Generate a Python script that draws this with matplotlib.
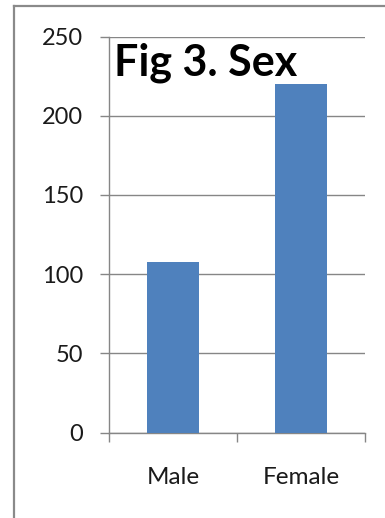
import matplotlib
matplotlib.use("Agg")
import matplotlib.pyplot as plt
from matplotlib.lines import Line2D

# Respondents by sex
categories = ["Male", "Female"]
counts = [108, 220]
yticks = [0, 50, 100, 150, 200, 250]

bar_color = "#4f81bd"
grid_color = "#868686"

plt.rcParams["font.family"] = ["Lato", "DejaVu Sans"]

fig = plt.figure(figsize=(3.85, 5.18), dpi=100)
ax = fig.add_axes([0.283, 0.1647, 0.665, 0.7648])

x = list(range(len(categories)))
ax.bar(x, counts, width=0.4, color=bar_color, zorder=3)

ax.set_xlim(-0.5, len(categories) - 0.5)
ax.set_ylim(0, 250)
ax.set_yticks(yticks)
ax.set_yticklabels([str(v) for v in yticks])
ax.yaxis.grid(True, color=grid_color, linewidth=1.0, zorder=0)

# category labels sit between the boundary ticks
ax.set_xticks(x)
ax.set_xticklabels(categories)
ax.set_xticks([i - 0.5 for i in range(len(categories) + 1)], minor=True)
ax.tick_params(axis="x", which="major", length=0, pad=25, labelsize=17.5, labelcolor="#1a1a1a")
ax.tick_params(axis="x", which="minor", length=6.5, width=1.0, color=grid_color)
ax.tick_params(axis="y", length=6.5, width=1.0, color=grid_color, pad=12,
               labelsize=17, labelcolor="#1a1a1a")

for side in ["top", "right"]:
    ax.spines[side].set_visible(False)
for side in ["left", "bottom"]:
    ax.spines[side].set_color(grid_color)
    ax.spines[side].set_linewidth(1.0)

ax.text(0.02, 0.985, "Fig 3. Sex", transform=ax.transAxes, ha="left", va="top",
        fontsize=31, fontweight="bold", color="black")

# chart frame, open to the right and bottom
frame_x = 14 / 385
frame_y = 1 - 6 / 518
fig.add_artist(Line2D([frame_x, 1.05], [frame_y, frame_y], transform=fig.transFigure,
                      color="#8a8a8a", linewidth=1.6))
fig.add_artist(Line2D([frame_x, frame_x], [-0.05, frame_y], transform=fig.transFigure,
                      color="#8a8a8a", linewidth=1.6))

fig.savefig("out.png", dpi=100)
